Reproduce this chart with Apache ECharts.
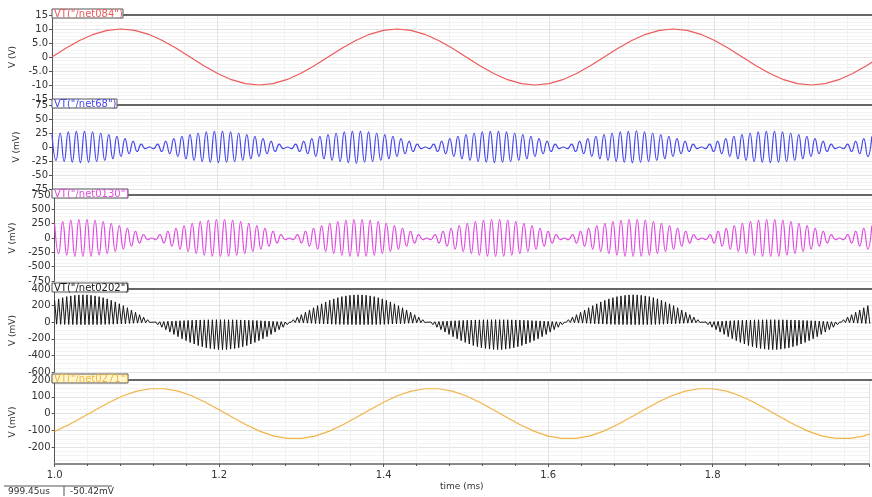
<!DOCTYPE html>
<html>
<head>
<meta charset="utf-8">
<script src="https://cdn.jsdelivr.net/npm/echarts@6/dist/echarts.min.js"></script>
<style>html,body{margin:0;padding:0;background:#fff}#c{width:872px;height:497px}</style>
</head>
<body>
<div id="c"></div>
<script>
// ---- data ----
const T_START = 1.0;            // ms
const T_END = 1.99;             // ms, right edge of view
const X_TICKS = [1.0, 1.2, 1.4, 1.6, 1.8];
const SLOW_STEP = 1 / 60;       // ms, sample step of slow traces
const FAST_STEP = 0.0049;       // ms, step between carrier extrema

const netNames = ['VT("/net084")', 'VT("/net68")', 'VT("/net0130")', 'VT("/net0202")', 'VT("/net0271")'];
const yNames = ['V (V)', 'V (mV)', 'V (mV)', 'V (mV)', 'V (mV)'];

const net084 = [0,3.1,5.9,8.1,9.5,10,9.5,8.1,5.9,3.1,0,-3.1,-5.9,-8.1,-9.5,-10,-9.5,-8.1,-5.9,-3.1,
0,3.1,5.9,8.1,9.5,10,9.5,8.1,5.9,3.1,0,-3.1,-5.9,-8.1,-9.5,-10,-9.5,-8.1,-5.9,-3.1,
0,3.1,5.9,8.1,9.5,10,9.5,8.1,5.9,3.1,0,-3.1,-5.9,-8.1,-9.5,-10,-9.5,-8.1,-5.9,-3.1,0];

const net0271 = [-106,-68,-23,23,68,106,134,148,148,134,106,68,23,-23,-68,-106,-134,-148,-148,-134,
-106,-68,-23,23,68,106,134,148,148,134,106,68,23,-23,-68,-106,-134,-148,-148,-134,
-106,-68,-23,23,68,106,134,148,148,134,106,68,23,-23,-68,-106,-134,-148,-148,-134,-106];

const net68 = [22,-24,25,-26,27,-27,28,-28,28,-27,27,-26,25,-24,22,-21,19,-17,15,-12,10,-8,5,-3,
0,-3,5,-8,10,-12,15,-17,19,-21,22,-24,25,-26,27,-27,28,-28,28,-27,27,-26,25,-24,22,-21,19,-17,15,-12,10,-8,5,-3,
0,-3,5,-8,10,-12,15,-17,19,-21,22,-24,25,-26,27,-28,28,-29,28,-27,27,-26,25,-24,22,-21,19,-17,15,-12,10,-8,5,-3,
0,-3,5,-8,10,-12,15,-17,19,-21,22,-24,25,-26,27,-27,28,-28,28,-27,27,-26,25,-24,22,-21,19,-17,15,-12,10,-8,5,-3,
0,-3,5,-8,10,-12,15,-17,19,-21,22,-24,25,-26,27,-27,28,-28,29,-27,27,-26,25,-24,22,-21,19,-17,15,-12,10,-8,5,-3,
0,-3,5,-8,10,-12,15,-17,19,-21,22,-24,25,-26,27,-27,28,-28,28,-27,27,-26,25,-24,22,-21,19,-17,15,-12,10,-8,5,-3,
0,-3,5,-8,10,-12,15,-17,19];

const net0130 = [255,-272,286,-298,308,-315,319,-320,319,-315,308,-298,286,-272,255,-236,216,-193,168,-143,116,-88,59,-29,
0,-29,59,-88,116,-143,168,-193,216,-236,255,-272,286,-298,308,-315,319,-320,319,-315,308,-298,286,-272,255,-236,216,-193,168,-143,116,-88,59,-29,
0,-29,59,-88,116,-143,168,-193,216,-236,255,-272,286,-298,308,-315,319,-320,319,-315,308,-298,286,-272,255,-236,216,-193,168,-143,116,-88,59,-29,
0,-29,59,-88,116,-143,168,-193,216,-236,255,-272,286,-298,308,-315,319,-320,319,-315,308,-298,286,-272,255,-236,216,-193,168,-143,116,-88,59,-29,
0,-29,59,-88,116,-143,168,-193,216,-236,255,-272,286,-298,308,-315,319,-320,319,-315,308,-298,286,-272,255,-236,216,-193,168,-143,116,-88,59,-29,
0,-29,59,-88,116,-143,168,-193,216,-236,255,-272,286,-298,308,-315,319,-320,319,-315,308,-298,286,-272,255,-236,216,-193,168,-143,116,-88,59,-29,
0,-29,59,-88,116,-143,168,-193,216];

// upper and lower extrema of the dense black trace
const net0202Top = [263,281,295,308,317,324,329,330,329,324,317,308,295,281,263,244,222,199,174,147,119,90,61,30,
0,3,6,8,11,13,16,18,20,22,24,26,27,28,29,29,30,30,30,29,29,28,27,26,24,22,20,18,16,13,11,8,6,3,
0,30,61,90,119,147,174,199,222,244,263,281,295,308,317,324,329,330,329,324,317,308,295,281,263,244,222,199,174,147,119,90,61,30,
0,3,6,8,11,13,16,18,20,22,24,26,27,28,29,29,30,30,30,29,29,28,27,26,24,22,20,18,16,13,11,8,6,3,
0,30,61,90,119,147,174,199,222,244,263,281,295,308,317,324,329,330,329,324,317,308,295,281,263,244,222,199,174,147,119,90,61,30,
0,3,6,8,11,13,16,18,20,22,24,26,27,28,29,29,30,30,30,29,29,28,27,26,24,22,20,18,16,13,11,8,6,3,
0,30,61,90,119,147,174,199];
const net0202Bottom = [-24,-26,-27,-28,-29,-29,-30,-30,-30,-29,-29,-28,-27,-26,-24,-22,-20,-18,-16,-13,-11,-8,-6,-3,
0,-30,-61,-90,-119,-147,-174,-199,-222,-244,-263,-281,-295,-308,-317,-324,-329,-330,-329,-324,-317,-308,-295,-281,-263,-244,-222,-199,-174,-147,-119,-90,-61,-30,
0,-3,-6,-8,-11,-13,-16,-18,-20,-22,-24,-26,-27,-28,-29,-29,-30,-30,-30,-29,-29,-28,-27,-26,-24,-22,-20,-18,-16,-13,-11,-8,-6,-3,
0,-30,-61,-90,-119,-147,-174,-199,-222,-244,-263,-281,-295,-308,-317,-324,-329,-330,-329,-324,-317,-308,-295,-281,-263,-244,-222,-199,-174,-147,-119,-90,-61,-30,
0,-3,-6,-8,-11,-13,-16,-18,-20,-22,-24,-26,-27,-28,-29,-29,-30,-30,-30,-29,-29,-28,-27,-26,-24,-22,-20,-18,-16,-13,-11,-8,-6,-3,
0,-30,-61,-90,-119,-147,-174,-199,-222,-244,-263,-281,-295,-308,-317,-324,-329,-330,-329,-324,-317,-308,-295,-281,-263,-244,-222,-199,-174,-147,-119,-90,-61,-30,
0,-3,-6,-8,-11,-13,-16,-18];

const yMin = [-15, -75, -750, -600, -300];
const yMax = [15, 75, 750, 400, 200];
const yInterval = [5, 25, 250, 200, 100];

// ---- layout / style ----
const colors = ['#ee5a5a', '#4646ee', '#e24ae2', '#151515', '#f1b545'];
const tabBg = ['#ffffff', '#ffffff', '#ffffff', '#ffffff', '#fff6cc'];
const tabW = [71, 65, 76, 76, 76];
const tops = [15, 105, 195, 289, 380];
const heights = [84, 84, 86, 83, 84];
const smoothing = [false, 0.5, 0.5, false, false];
const widths = [1.2, 1.2, 1.2, 1, 1.2];
const LEFT = 52;
const FONT = 'DejaVu Sans';

function evenSeries(arr, step) {
  return arr.map((v, i) => [T_START + i * step, v]);
}
function zigzag(top, bottom, step) {
  const out = [];
  for (let i = 0; i < top.length; i++) {
    out.push([T_START + i * step, top[i]]);
    out.push([T_START + i * step + step / 2, bottom[i]]);
  }
  return out;
}

const seriesData = [
  evenSeries(net084, SLOW_STEP),
  evenSeries(net68, FAST_STEP),
  evenSeries(net0130, FAST_STEP),
  zigzag(net0202Top, net0202Bottom, FAST_STEP),
  evenSeries(net0271, SLOW_STEP)
];

const isTick = v => X_TICKS.some(t => Math.abs(t - v) < 1e-6);

const grids = [], xAxes = [], yAxes = [], series = [], graphics = [];
for (let i = 0; i < 5; i++) {
  const last = i === 4;
  grids.push({ left: LEFT, right: 0, top: tops[i], height: heights[i] });
  xAxes.push({
    type: 'value', gridIndex: i, min: T_START, max: T_END, interval: 0.2,
    axisLine: { show: last, onZero: false, lineStyle: { color: '#8a8a8a', width: 2 } },
    axisTick: { show: last, length: 3, lineStyle: { color: '#555' } },
    minorTick: { show: last, splitNumber: 5, length: 2, lineStyle: { color: '#555' } },
    axisLabel: {
      show: last, color: '#333', fontFamily: FONT, fontSize: 10, margin: 6,
      formatter: v => isTick(v) ? v.toFixed(1) : ''
    },
    splitLine: { show: true, lineStyle: { color: '#e3e3e3', width: 1 } },
    minorSplitLine: { show: true, lineStyle: { color: '#f1f1f1', width: 1 } },
    name: last ? 'time (ms)' : '', nameLocation: 'middle', nameGap: 18,
    nameTextStyle: { color: '#333', fontFamily: FONT, fontSize: 9 }
  });
  yAxes.push({
    type: 'value', gridIndex: i, min: yMin[i], max: yMax[i], interval: yInterval[i],
    axisLine: { show: true, lineStyle: { color: '#555', width: 1 } },
    axisTick: { show: true, length: 3, lineStyle: { color: '#555' } },
    axisLabel: {
      color: '#333', fontFamily: FONT, fontSize: 10, margin: 4,
      showMinLabel: !last,
      formatter: v => (i === 0 && Math.abs(v) === 5) ? v.toFixed(1) : String(v)
    },
    splitLine: { show: true, lineStyle: { color: '#e3e3e3', width: 1 } },
    minorTick: { show: false, splitNumber: 4 },
    minorSplitLine: { show: true, lineStyle: { color: '#f3f3f3', width: 1 } },
    name: yNames[i], nameLocation: 'middle', nameGap: 20, nameRotate: 90,
    nameTextStyle: { color: '#333', fontFamily: FONT, fontSize: 9 }
  });
  series.push({
    type: 'line', xAxisIndex: i, yAxisIndex: i, data: seriesData[i],
    showSymbol: false, symbol: 'none', clip: true, smooth: smoothing[i],
    lineStyle: { color: colors[i], width: widths[i] }, itemStyle: { color: colors[i] },
    emphasis: { disabled: true }, silent: true
  });
  // tab with the net name and the heavy panel separator line
  graphics.push({
    type: 'rect', z: 100,
    shape: { x: LEFT, y: tops[i] - 6, width: tabW[i], height: 9 },
    style: { fill: tabBg[i], stroke: '#555', lineWidth: 1 }
  });
  graphics.push({
    type: 'line', z: 100,
    shape: { x1: LEFT + tabW[i], y1: tops[i], x2: 872, y2: tops[i] },
    style: { stroke: '#666', lineWidth: 2 }
  });
  graphics.push({
    type: 'text', z: 101, x: LEFT + 2, y: tops[i] - 6,
    style: { text: netNames[i], fill: colors[i], fontFamily: FONT, fontSize: 10 }
  });
}

// cursor readout bottom-left
graphics.push({ type: 'line', z: 100, shape: { x1: 4, y1: 486, x2: 112, y2: 486 }, style: { stroke: '#555', lineWidth: 1 } });
graphics.push({ type: 'line', z: 100, shape: { x1: 64, y1: 486, x2: 64, y2: 496 }, style: { stroke: '#555', lineWidth: 1 } });
graphics.push({ type: 'text', z: 101, x: 8, y: 487, style: { text: '999.45us', fill: '#333', fontFamily: FONT, fontSize: 9 } });
graphics.push({ type: 'text', z: 101, x: 70, y: 487, style: { text: '-50.42mV', fill: '#333', fontFamily: FONT, fontSize: 9 } });

const chart = echarts.init(document.getElementById('c'), null, { renderer: 'canvas' });
chart.setOption({
  animation: false,
  backgroundColor: '#fff',
  grid: grids, xAxis: xAxes, yAxis: yAxes, series: series, graphic: graphics
});
</script>
</body>
</html>
